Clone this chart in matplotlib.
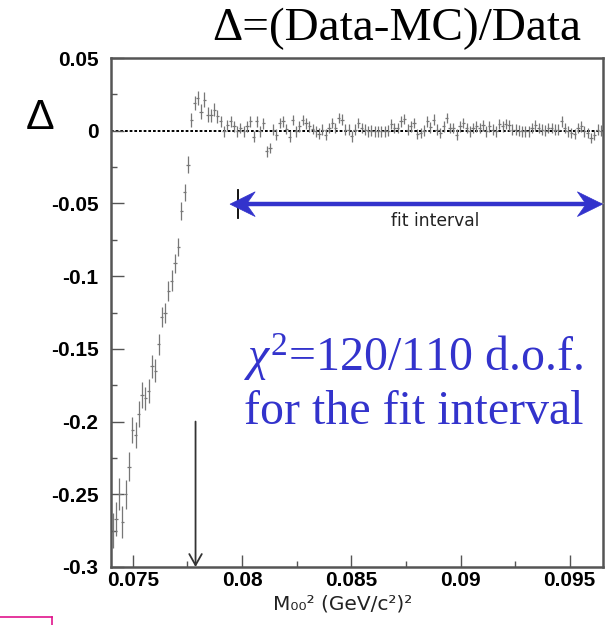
import numpy as np
import matplotlib
matplotlib.use("Agg")
import matplotlib.pyplot as plt
from matplotlib.lines import Line2D
from matplotlib.patches import Polygon
from matplotlib.ticker import MultipleLocator, FixedLocator

# ---------------- data ----------------
x_min, x_max = 0.074, 0.0965
bin_width = 0.00015

delta = [
    -0.275, -0.267, -0.250, -0.269, -0.250, -0.231, -0.206, -0.209, -0.195, -0.182,
    -0.184, -0.179, -0.162, -0.165, -0.147, -0.128, -0.1255, -0.110, -0.103, -0.091,
    -0.080, -0.0553, -0.0423, -0.0233, 0.0075, 0.019, 0.0224, 0.0132, 0.0213, 0.011,
    0.0105, 0.0144, 0.0098, 0.0064, -0.0005, 0.004, 0.0064, 0.003, -0.0005, 0.002,
    -0.0005, 0.003, 0.0064, -0.004, 0.0064, -0.0005, 0.005, -0.0142, -0.012, 0.0007,
    -0.0027, 0.0053, 0.0064, 0.001, -0.004, 0.0075, -0.0005, 0.003, 0.0075, 0.005,
    0.003, 0.001, -0.0005, -0.002, 0.0007, -0.0027, 0.0018, 0.0053, 0.0018, 0.0087,
    0.0076, 0.0007, 0.0007, -0.0039, 0.0007, 0.0053, 0.0018, 0.0007, -0.0005, 0.0,
    -0.0005, -0.0005, -0.0005, -0.0005, 0.0, 0.0046, 0.0018, 0.0018, 0.0064, 0.0082,
    0.0007, 0.003, 0.0053, -0.0023, -0.0016, 0.0, 0.0064, 0.0023, 0.0076, 0.0007,
    -0.0016, 0.003, 0.0087, 0.0018, 0.0018, -0.0027, 0.003, 0.0053, 0.0018, -0.0005,
    0.0018, 0.003, 0.0018, 0.0037, -0.0005, 0.003, 0.0007, -0.0005, 0.0046, 0.003,
    0.0046, 0.0037, 0.0007, 0.0007, 0.0, -0.0005, -0.0005, -0.0005, 0.0018, 0.0037,
    0.0018, 0.0007, 0.0, 0.0018, 0.0018, 0.0007, 0.0007, 0.0064, 0.0018, -0.0005,
    -0.0016, -0.0023, 0.0018, 0.003, -0.0005, -0.0016, -0.005, -0.003, 0.0007, 0.0,
]

delta_err = (
    [0.012, 0.012, 0.011, 0.011, 0.010, 0.010, 0.009, 0.009, 0.009, 0.009,
     0.008, 0.008, 0.008, 0.008, 0.0075, 0.007, 0.007, 0.007, 0.007, 0.0065,
     0.0063, 0.0062, 0.006, 0.0057, 0.005, 0.005, 0.005, 0.005, 0.005, 0.005,
     0.0045, 0.0045, 0.0045, 0.004]
    + [0.0036] * 116
)

y_ticks = [0.05, 0.0, -0.05, -0.1, -0.15, -0.2, -0.25, -0.3]
y_tick_labels = ["0.05", "0", "-0.05", "-0.1", "-0.15", "-0.2", "-0.25", "-0.3"]
x_ticks = [0.075, 0.08, 0.085, 0.09, 0.095]
x_tick_labels = ["0.075", "0.08", "0.085", "0.09", "0.095"]

fit_lo, fit_hi = 0.0798, 0.0965
threshold = 0.07787

plt.rcParams["mathtext.fontset"] = "custom"
plt.rcParams["mathtext.rm"] = "Liberation Serif"
plt.rcParams["mathtext.it"] = "Liberation Serif:italic"
plt.rcParams["mathtext.bf"] = "Liberation Serif:bold"

# ---------------- figure ----------------
W, H = 612, 625
fig = plt.figure(figsize=(W / 100, H / 100), dpi=100)
L, R, T, B = 111, 602.5, 58, 567
ax = fig.add_axes([L / W, 1 - B / H, (R - L) / W, (B - T) / H])

centers = x_min + bin_width * (np.arange(len(delta)) + 0.5)

ax.axhline(0, color="black", lw=1.4, dashes=(1.4, 1.0), zorder=1)

ax.errorbar(centers, delta, yerr=delta_err, xerr=bin_width / 2, fmt="none",
            ecolor="#777777", elinewidth=0.9, capsize=0, zorder=2)

ax.set_xlim(x_min, x_max)
ax.set_ylim(-0.3, 0.05)

frame_c = "#555555"
for s in ["left", "bottom", "right", "top"]:
    ax.spines[s].set_color(frame_c)
    ax.spines[s].set_linewidth(1.8)

ax.yaxis.set_major_locator(FixedLocator(y_ticks))
ax.set_yticklabels(y_tick_labels)
ax.yaxis.set_minor_locator(MultipleLocator(0.025))
ax.xaxis.set_major_locator(FixedLocator(x_ticks))
ax.set_xticklabels(x_tick_labels)
ax.xaxis.set_minor_locator(MultipleLocator(0.0025))

ax.tick_params(which="both", direction="in", top=False, right=False, color=frame_c, width=1.0)
ax.tick_params(which="major", length=9)
ax.tick_params(which="minor", length=4.5)
ax.tick_params(axis="y", which="major", pad=9)
ax.tick_params(axis="x", which="major", pad=3)
for lab in ax.get_xticklabels() + ax.get_yticklabels():
    lab.set_fontfamily("Liberation Sans")
    lab.set_fontweight("bold")
    lab.set_fontsize(15)

# threshold arrow
ax.annotate("", xy=(threshold, -0.3), xytext=(threshold, -0.2),
            arrowprops=dict(arrowstyle="->,head_length=0.8,head_width=0.45",
                            color="#333333", lw=1.3, shrinkA=0, shrinkB=0))

# fit interval arrow
blue = "#3333cc"
ax.plot([fit_lo, fit_lo], [-0.0407, -0.060], color="black", lw=1.3, zorder=3)
ax.plot([fit_lo, fit_hi], [-0.0495, -0.0495], color="#888888", lw=1.0, zorder=3,
        clip_on=False)
y_arr = -0.0505
x_left_tip = 0.07945
ax.plot([x_left_tip + 0.0004, fit_hi - 0.0004], [y_arr, y_arr], color=blue, lw=3.2,
        zorder=4, clip_on=False, solid_capstyle="butt")


def swept_head(tip_x, direction):
    hl = 0.00115
    notch = 0.00075
    hw = 0.0085
    pts = [(tip_x, y_arr),
           (tip_x - direction * hl, y_arr + hw),
           (tip_x - direction * notch, y_arr),
           (tip_x - direction * hl, y_arr - hw)]
    return Polygon(pts, closed=True, facecolor=blue, edgecolor=blue, lw=0.5,
                   zorder=5, clip_on=False)


ax.add_patch(swept_head(x_left_tip, -1))
ax.add_patch(swept_head(fit_hi, +1))

ax.text(0.08883, -0.0618, "fit interval", ha="center", va="center",
        fontsize=12.3, family="DejaVu Sans", color="#222222")

# texts
fig.text(397 / W, 1 - 29 / H, "\u0394=(Data-MC)/Data", ha="center", va="center",
         fontsize=34, family="Liberation Serif", color="black")
fig.text(40 / W, 1 - 118 / H, "\u0394", ha="center", va="center",
         fontsize=31, family="Liberation Sans", color="black")
fig.text(413 / W, 1 - 357 / H, r"$\chi^{2}$=120/110 d.o.f.", ha="center", va="center",
         fontsize=34.5, family="Liberation Serif", color=blue)
fig.text(414 / W, 1 - 412 / H, "for the fit interval", ha="center", va="center",
         fontsize=34.5, family="Liberation Serif", color=blue)
fig.text(343 / W, 1 - 604 / H, "M\u2080\u2080\u00b2 (GeV/c\u00b2)\u00b2", ha="center", va="center",
         fontsize=14.5, family="DejaVu Sans", color="#222222")

# pink box fragment
pink = "#e0148c"
fig.add_artist(Line2D([0, 52 / W], [1 - 617 / H, 1 - 617 / H], color=pink, lw=1.2,
                      transform=fig.transFigure))
fig.add_artist(Line2D([52 / W, 52 / W], [1 - 617 / H, 0], color=pink, lw=1.2,
                      transform=fig.transFigure))

fig.savefig("out.png", dpi=100)
